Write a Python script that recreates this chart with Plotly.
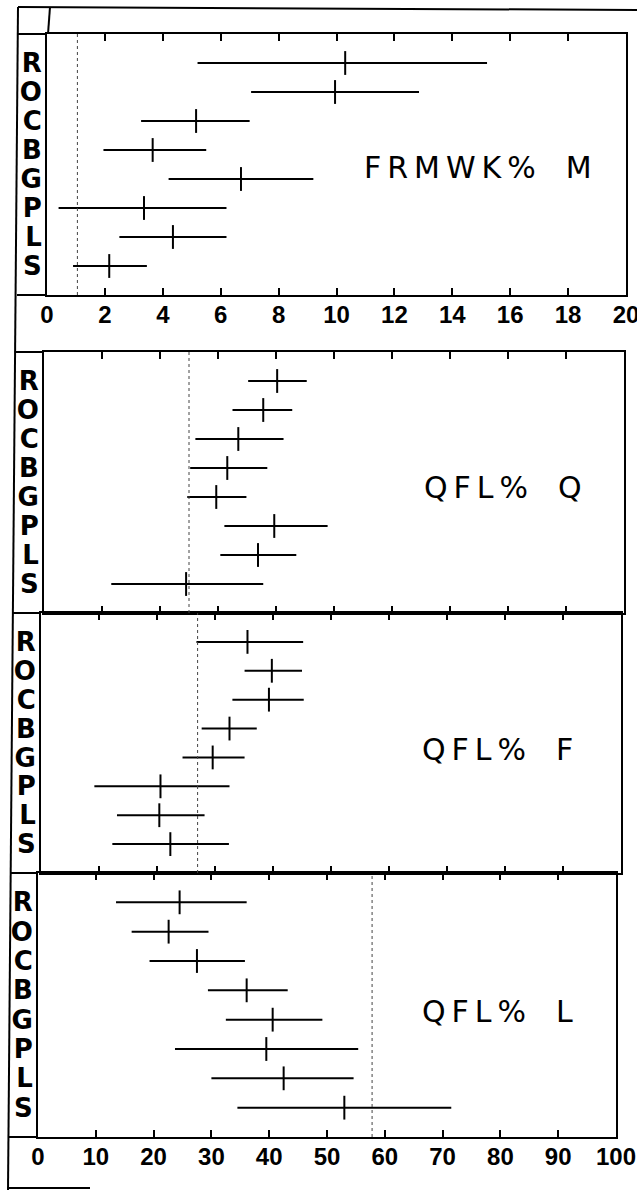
import plotly.graph_objects as go

# Row categories (top to bottom)
rows = ["R", "O", "C", "B", "G", "P", "L", "S"]

# Panel 1: FRMWK% M  (scale 0-20)
m_low = [5.2, 7.05, 3.25, 1.95, 4.2, 0.4, 2.5, 0.9]
m_mean = [10.3, 9.95, 5.15, 3.65, 6.7, 3.35, 4.35, 2.15]
m_high = [15.2, 12.85, 7.0, 5.5, 9.2, 6.2, 6.2, 3.45]
m_ref = 1.05

# Panel 2: QFL% Q  (scale 0-100)
q_low = [35.2, 32.5, 26.1, 25.2, 24.7, 31.1, 30.4, 11.6]
q_mean = [40.2, 37.8, 33.5, 31.6, 29.7, 39.7, 36.9, 24.5]
q_high = [45.3, 42.8, 41.3, 38.5, 34.9, 48.9, 43.5, 37.8]
q_ref = 25.0

# Panel 3: QFL% F
f_low = [26.8, 35.1, 33.0, 27.7, 24.4, 9.2, 13.1, 12.3]
f_mean = [35.6, 39.8, 39.3, 32.5, 29.6, 20.6, 20.4, 22.3]
f_high = [45.2, 45.0, 45.3, 37.2, 35.1, 32.5, 28.2, 32.4]
f_ref = 27.0

# Panel 4: QFL% L
l_low = [13.5, 16.2, 19.3, 29.4, 32.5, 23.7, 30.0, 34.5]
l_mean = [24.5, 22.6, 27.5, 36.1, 40.6, 39.5, 42.5, 53.0]
l_high = [36.1, 29.5, 35.8, 43.2, 49.2, 55.4, 54.6, 71.5]
l_ref = 57.8

panel_titles = ["F\u2009R\u2009M\u2009W\u2009K\u2009%\u2002\u2002M",
                "Q\u2009F\u2009L\u2009%\u2002\u2002Q",
                "Q\u2009F\u2009L\u2009%\u2002\u2002F",
                "Q\u2009F\u2009L\u2009%\u2002\u2002L"]
frmwk_ticks = [0, 2, 4, 6, 8, 10, 12, 14, 16, 18, 20]
qfl_ticks = [0, 10, 20, 30, 40, 50, 60, 70, 80, 90, 100]

W, H = 637, 1190
def px(x):
    return x / W
def py(y):
    return 1 - y / H

# panel geometry in pixels: (x0, x1, ytop, ybot)
geo = [(47, 626, 34, 295), (44, 624, 352, 613), (41, 621, 613, 873), (38, 616, 873, 1137)]

panels = [
    (m_low, m_mean, m_high, m_ref, [0, 20], frmwk_ticks),
    (q_low, q_mean, q_high, q_ref, [0, 100], qfl_ticks),
    (f_low, f_mean, f_high, f_ref, [0, 100], qfl_ticks),
    (l_low, l_mean, l_high, l_ref, [0, 100], qfl_ticks),
]

fig = go.Figure()
layout = {}
tick_font = dict(family="Liberation Sans, Arial, sans-serif", size=24, color="black", weight="bold")
letter_font = dict(family="DejaVu Sans", size=26, color="black", weight="bold")

for i, (lo, mn, hi, ref, rng, tv) in enumerate(panels):
    n = i + 1
    xs = "x" if n == 1 else f"x{n}"
    ys = "y" if n == 1 else f"y{n}"
    x0, x1, yt, yb = geo[i]
    fig.add_trace(go.Scatter(
        x=mn, y=rows, xaxis=xs, yaxis=ys, mode="markers",
        marker=dict(symbol="line-ns", size=17, color="black",
                    line=dict(width=2, color="black")),
        error_x=dict(type="data", symmetric=False,
                     array=[h - m for h, m in zip(hi, mn)],
                     arrayminus=[m - l for m, l in zip(mn, lo)],
                     width=0, thickness=2, color="black"),
        showlegend=False, hoverinfo="skip"))
    show_lbl = n in (1, 4)
    layout[f"xaxis{'' if n == 1 else n}"] = dict(
        domain=[px(x0), px(x1)], anchor=ys, range=rng,
        tickmode="array", tickvals=tv, ticktext=[str(v) for v in tv],
        ticks="inside", ticklen=7, tickwidth=2, tickcolor="black",
        showline=True, linewidth=2, linecolor="black", mirror="allticks",
        showgrid=False, zeroline=False, showticklabels=show_lbl,
        tickfont=tick_font, ticklabelstandoff=-3, ticklabeloverflow="allow",
        automargin=False, fixedrange=True)
    layout[f"yaxis{'' if n == 1 else n}"] = dict(
        domain=[py(yb), py(yt)], anchor=xs, type="category",
        categoryorder="array", categoryarray=rows, range=[8, -1],
        tickmode="array", tickvals=rows, ticktext=rows,
        showline=True, linewidth=2, linecolor="black", mirror=True,
        ticks="", showgrid=False, zeroline=False,
        tickfont=letter_font, ticklabelstandoff=-2, ticklabeloverflow="allow",
        automargin=False, fixedrange=True)
    # outside part of the crossing ticks
    k = n + 4
    layout[f"xaxis{k}"] = dict(
        overlaying=xs, anchor=ys, range=rng, tickmode="array", tickvals=tv,
        ticks="outside", ticklen=4, tickwidth=2, tickcolor="black",
        showline=False, mirror="allticks", showgrid=False, zeroline=False,
        showticklabels=False, automargin=False, fixedrange=True)
    # reference (dotted) line
    fig.add_shape(type="line", xref=xs, yref=f"{ys} domain", x0=ref, x1=ref,
                  y0=0, y1=1, line=dict(color="#444", width=1, dash="dot"))

# panel titles
title_pos = [(478, 168), (503, 487), (497, 749), (497, 1011)]
for t, (tx, ty) in zip(panel_titles, title_pos):
    fig.add_annotation(text=t, x=px(tx), y=py(ty), xref="paper", yref="paper",
                       showarrow=False, xanchor="center", yanchor="middle",
                       font=dict(family="DejaVu Sans", size=30, color="black"))

# frame lines (drawing border of the original figure)
frame = [
    (18, 7, 8, 1190),
    (18, 7, 637, 10),
    (50, 7, 48, 34),
    (18, 34, 47, 34),
    (17, 295, 47, 295),
    (15, 352, 44, 352),
    (13, 613, 41, 613),
    (11, 873, 38, 873),
    (9, 1137, 38, 1137),
    (8, 1188, 90, 1188),
]
for (a, b, c, d) in frame:
    fig.add_shape(type="line", xref="paper", yref="paper",
                  x0=px(a), y0=py(b), x1=px(c), y1=py(d),
                  line=dict(color="black", width=2))

fig.update_layout(
    template="none",
    width=W, height=H, margin=dict(l=0, r=0, t=0, b=0, pad=0),
    paper_bgcolor="white", plot_bgcolor="white", showlegend=False,
    **layout)

fig.write_html("out.html", config={"displayModeBar": False},
               post_script="document.body.style.margin='0';document.body.style.overflow='hidden';")
